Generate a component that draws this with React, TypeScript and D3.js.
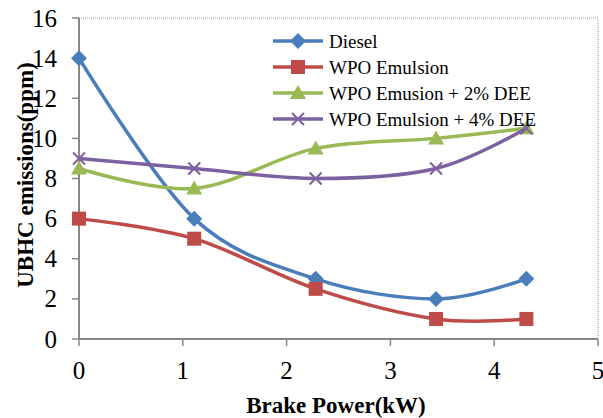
import * as d3 from "d3";
import React, { useEffect, useRef } from "react";

const power = [0, 1.11, 2.28, 3.44, 4.31];
const diesel = [14, 6, 3, 2, 3];
const wpo = [6, 5, 2.5, 1, 1];
const wpo2 = [8.5, 7.5, 9.5, 10, 10.5];
const wpo4 = [9, 8.5, 8, 8.5, 10.5];
const names = ["Diesel", "WPO Emulsion", "WPO Emusion + 2% DEE", "WPO Emulsion + 4% DEE"];
const colors = ["#4a7ebb", "#be4b48", "#98b954", "#7d60a0"];
const shapes = ["diamond", "square", "triangle", "x"];
const xTicks = [0, 1, 2, 3, 4, 5];
const yTicks = [0, 2, 4, 6, 8, 10, 12, 14, 16];

const W = 603;
const H = 418;
const m = { left: 79, right: 5, top: 18, bottom: 79 };
const FONT = "Liberation Serif";

function marker(g, shape, color, x, y) {
  if (shape === "diamond") {
    g.append("path")
      .attr("d", `M${x},${y - 8}L${x + 8},${y}L${x},${y + 8}L${x - 8},${y}Z`)
      .attr("fill", color);
  } else if (shape === "square") {
    g.append("rect")
      .attr("x", x - 7).attr("y", y - 7).attr("width", 14).attr("height", 14)
      .attr("fill", color);
  } else if (shape === "triangle") {
    g.append("path")
      .attr("d", `M${x},${y - 8}L${x + 8},${y + 6}L${x - 8},${y + 6}Z`)
      .attr("fill", color);
  } else {
    g.append("path")
      .attr("d", `M${x - 6},${y - 6}L${x + 6},${y + 6}M${x - 6},${y + 6}L${x + 6},${y - 6}`)
      .attr("stroke", color).attr("stroke-width", 2).attr("fill", "none");
  }
}

export default function App() {
  const ref = useRef<SVGSVGElement | null>(null);

  useEffect(() => {
    const svg = d3.select(ref.current);
    svg.selectAll("*").remove();

    const x = d3.scaleLinear().domain([0, 5]).range([m.left, W - m.right]);
    const y = d3.scaleLinear().domain([0, 16]).range([H - m.bottom, m.top]);

    // frame (dotted top/right)
    svg.append("path")
      .attr("d", `M${x(0)},${y(16)}H${x(5)}V${y(0)}`)
      .attr("fill", "none").attr("stroke", "#999").attr("stroke-dasharray", "1,1");

    // y axis
    const yAxis = svg.append("g");
    yAxis.append("line")
      .attr("x1", x(0)).attr("x2", x(0)).attr("y1", y(0)).attr("y2", y(16))
      .attr("stroke", "#888").attr("stroke-width", 2);
    yTicks.forEach((t) => {
      yAxis.append("line")
        .attr("x1", x(0) - 7).attr("x2", x(0)).attr("y1", y(t)).attr("y2", y(t))
        .attr("stroke", "#888").attr("stroke-width", 1.5);
      yAxis.append("text")
        .attr("x", x(0) - 22).attr("y", y(t)).attr("dy", "0.34em")
        .attr("text-anchor", "end").attr("font-family", FONT).attr("font-size", 25)
        .text(t);
    });

    // x axis
    const xAxis = svg.append("g");
    xAxis.append("line")
      .attr("x1", x(0)).attr("x2", x(5)).attr("y1", y(0)).attr("y2", y(0))
      .attr("stroke", "#888").attr("stroke-width", 2);
    xTicks.forEach((t) => {
      xAxis.append("line")
        .attr("x1", x(t)).attr("x2", x(t)).attr("y1", y(0)).attr("y2", y(0) + 7)
        .attr("stroke", "#888").attr("stroke-width", 1.5);
      xAxis.append("text")
        .attr("x", x(t)).attr("y", y(0) + 40)
        .attr("text-anchor", "middle").attr("font-family", FONT).attr("font-size", 25)
        .text(t);
    });

    svg.append("text")
      .attr("x", 336).attr("y", 413)
      .attr("text-anchor", "middle").attr("font-family", FONT)
      .attr("font-size", 23).attr("font-weight", "bold")
      .text("Brake Power(kW)");
    svg.append("text")
      .attr("transform", `translate(33,175) rotate(-90)`)
      .attr("text-anchor", "middle").attr("font-family", FONT)
      .attr("font-size", 23).attr("font-weight", "bold")
      .text("UBHC emissions(ppm)");

    const series = [diesel, wpo, wpo2, wpo4];
    const line = d3.line()
      .x((d) => x(d[0]))
      .y((d) => y(d[1]))
      .curve(d3.curveCardinal.tension(0));

    series.forEach((vals, i) => {
      const pts = vals.map((v, j) => [power[j], v]);
      const g = svg.append("g");
      g.append("path")
        .attr("d", line(pts))
        .attr("fill", "none").attr("stroke", colors[i]).attr("stroke-width", 3.5);
      pts.forEach((p) => marker(g, shapes[i], colors[i], x(p[0]), y(p[1])));
    });

    // legend
    const lg = svg.append("g");
    names.forEach((n, i) => {
      const ly = 41 + i * 26;
      lg.append("line")
        .attr("x1", 273).attr("x2", 323).attr("y1", ly).attr("y2", ly)
        .attr("stroke", colors[i]).attr("stroke-width", 3.5);
      marker(lg, shapes[i], colors[i], 298, ly);
      lg.append("text")
        .attr("x", 329).attr("y", ly).attr("dy", "0.35em")
        .attr("font-family", FONT).attr("font-size", 19)
        .text(n);
    });
  }, []);

  return (
    <svg
      ref={ref}
      width={W}
      height={H}
      style={{ position: "absolute", left: 0, top: 0, background: "#fff" }}
    />
  );
}
